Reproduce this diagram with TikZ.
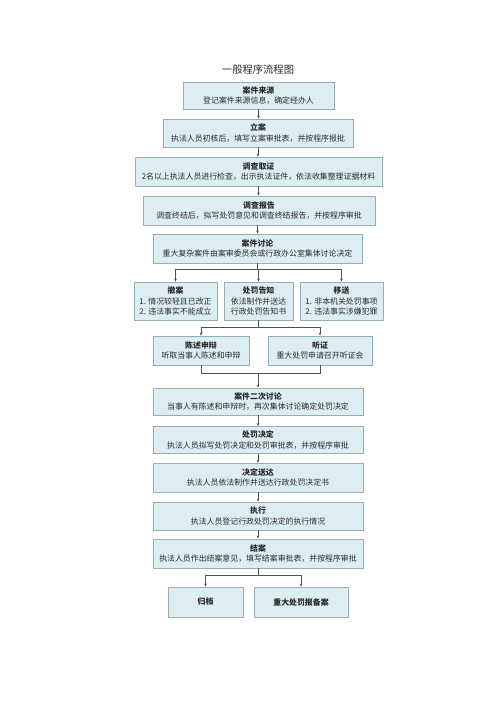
\documentclass[tikz,border=0pt]{standalone}
\usepackage{fontspec}
\setmainfont{Noto Sans CJK SC}
\usetikzlibrary{arrows.meta}
\definecolor{boxfill}{HTML}{DCEEF2}
\definecolor{boxline}{HTML}{98AEB4}
\definecolor{conn}{HTML}{505050}
\definecolor{txt}{HTML}{2A2A2A}
\tikzset{
  flowbox/.style={draw=boxline, fill=boxfill, line width=0.8pt, rectangle, align=center, inner sep=1pt,
    font=\fontsize{7.9}{10.2}\selectfont, text=txt},
  conline/.style={draw=conn, line width=0.5pt},
  conarrow/.style={conline, -{Stealth[length=3pt,width=2.6pt]}},
}
\newcommand{\hd}[1]{{\bfseries #1}}
\begin{document}
\begin{tikzpicture}[x=1pt,y=-1pt]
\useasboundingbox (0,0) rectangle (500,708);
\node[font=\fontsize{10.3}{12}\selectfont, text=txt] (title) at (258,70) {一般程序流程图};

\node[flowbox, minimum width=151pt, minimum height=27pt] (b1) at (258.5,95.5) {\hd{案件来源}\\登记案件来源信息，确定经办人};
\node[flowbox, minimum width=190pt, minimum height=28pt] (b2) at (258,133) {\hd{立案}\\执法人员初核后，填写立案审批表，并按程序报批};
\node[flowbox, minimum width=247pt, minimum height=29pt] (b3) at (258.5,171.5) {\hd{调查取证}\\2名以上执法人员进行检查，出示执法证件，依法收集整理证据材料};
\node[flowbox, minimum width=232pt, minimum height=29pt] (b4) at (259,210.5) {\hd{调查报告}\\调查终结后，拟写处罚意见和调查终结报告，并按程序审批};
\node[flowbox, minimum width=209pt, minimum height=29pt] (b5) at (257.5,248.5) {\hd{案件讨论}\\重大复杂案件由案审委员会或行政办公室集体讨论决定};

\node[flowbox, minimum width=83pt, minimum height=38pt] (ca) at (175.5,301) {\hd{撤案}\\1. 情况较轻且已改正\\2. 违法事实不能成立};
\node[flowbox, minimum width=69pt, minimum height=38pt] (gz) at (258.5,301) {\hd{处罚告知}\\依法制作并送达\\行政处罚告知书};
\node[flowbox, minimum width=83pt, minimum height=38pt] (ys) at (341.5,301) {\hd{移送}\\1. 非本机关处罚事项\\2. 违法事实涉嫌犯罪};

\node[flowbox, minimum width=96pt, minimum height=29pt] (sb) at (201,350.5) {\hd{陈述申辩}\\听取当事人陈述和申辩};
\node[flowbox, minimum width=104pt, minimum height=29pt] (tz) at (320,350.5) {\hd{听证}\\重大处罚申请召开听证会};

\node[flowbox, minimum width=210pt, minimum height=27pt] (b6) at (258,401.5) {\hd{案件二次讨论}\\当事人有陈述和申辩时，再次集体讨论确定处罚决定};
\node[flowbox, minimum width=210pt, minimum height=27pt] (b7) at (258,440) {\hd{处罚决定}\\执法人员拟写处罚决定和处罚审批表，并按程序审批};
\node[flowbox, minimum width=210pt, minimum height=29pt] (b8) at (258,477.5) {\hd{决定送达}\\执法人员依法制作并送达行政处罚决定书};
\node[flowbox, minimum width=210pt, minimum height=28pt] (b9) at (258,516) {\hd{执行}\\执法人员登记行政处罚决定的执行情况};
\node[flowbox, minimum width=210pt, minimum height=29pt] (b10) at (258,553.5) {\hd{结案}\\执法人员作出结案意见，填写结案审批表，并按程序审批};

\node[flowbox, minimum width=75pt, minimum height=30pt] (gd) at (205.5,602) {\hd{归档}};
\node[flowbox, minimum width=94pt, minimum height=30pt] (ba) at (301,602) {\hd{重大处罚报备案}};

% straight arrows
\draw[conarrow] (b1.south) -- (b1.south |- b2.north);
\draw[conarrow] (b2.south) -- (b2.south |- b3.north);
\draw[conarrow] (b3.south) -- (b3.south |- b4.north);
\draw[conarrow] (b4.south -| b5.north) -- (b5.north);

% branch 1
\coordinate (j1) at (257.5,269);
\draw[conline] (b5.south) -- (j1);
\draw[conline] (ca.north |- j1) -- (ys.north |- j1);
\draw[conarrow] (ca.north |- j1) -- (ca.north);
\draw[conarrow] (gz.north |- j1) -- (gz.north);
\draw[conarrow] (ys.north |- j1) -- (ys.north);

% branch 2
\coordinate (j2) at (258.5,327);
\draw[conline] (gz.south) -- (j2);
\draw[conline] (sb.north |- j2) -- (tz.north |- j2);
\draw[conarrow] (sb.north |- j2) -- (sb.north);
\draw[conarrow] (tz.north |- j2) -- (tz.north);

% merge
\coordinate (j3) at (258,373);
\draw[conline] (sb.south) -- (sb.south |- j3) -- (tz.south |- j3) -- (tz.south);
\draw[conarrow] (j3) -- (b6.north);

\draw[conarrow] (b6.south) -- (b7.north);
\draw[conarrow] (b7.south) -- (b8.north);
\draw[conarrow] (b8.south) -- (b9.north);
\draw[conarrow] (b9.south) -- (b10.north);

% final branch
\coordinate (j4) at (258,575);
\draw[conline] (b10.south) -- (j4);
\draw[conline] (gd.north |- j4) -- (ba.north |- j4);
\draw[conarrow] (gd.north |- j4) -- (gd.north);
\draw[conarrow] (ba.north |- j4) -- (ba.north);
\end{tikzpicture}
\end{document}
